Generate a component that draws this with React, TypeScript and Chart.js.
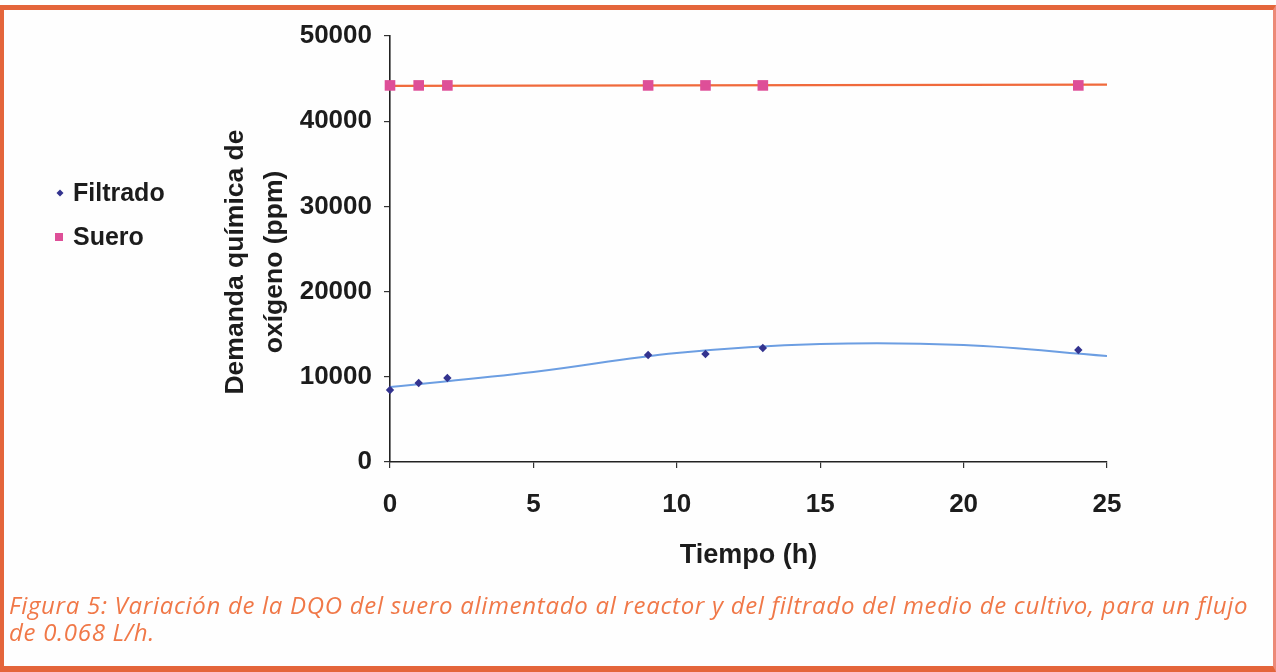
import React, { useEffect, useRef } from "react";
import { Chart, registerables } from "chart.js";

Chart.register(...registerables);

// Sampling times (h)
const tiempos = [0, 1, 2, 9, 11, 13, 24];
// Measured COD of the filtrate (ppm)
const filtrado = [8450, 9270, 9860, 12560, 12680, 13380, 13150];
// COD of the whey fed to the reactor (ppm)
const suero = [44200, 44200, 44200, 44200, 44200, 44200, 44200];

// Trend curve for the filtrate
const tendenciaFiltradoX = [0, 5, 10, 15, 20, 25];
const tendenciaFiltradoY = [8800, 10560, 12790, 13850, 13730, 12450];
// Trend line for the whey
const tendenciaSueroX = [0, 25];
const tendenciaSueroY = [44150, 44300];

const xTicks = [0, 5, 10, 15, 20, 25];
const yTicks = [0, 10000, 20000, 30000, 40000, 50000];

const legendItems = ["Filtrado", "Suero"];
const yTitle = ["Demanda química de", "oxígeno (ppm)"];
const xTitle = "Tiempo (h)";
const caption1 =
  "Figura 5: Variación de la DQO del suero alimentado al reactor y del filtrado del medio de cultivo, para un flujo";
const caption2 = "de 0.068 L/h.";

const FONT = "'Liberation Sans', Arial, sans-serif";
const INK = "#1c1c1c";
const BLUE_PT = "#33338f";
const PINK_PT = "#de4f98";
const BLUE_LINE = "#6c9ee2";
const ORANGE_LINE = "#f06a3c";
const FRAME = "#e4653b";

const pts = (xs: number[], ys: number[]) => xs.map((x, i) => ({ x, y: ys[i] }));

// Legend drawn in the free space left of the axis title, plus the two-line y title
const sideText = {
  id: "sideText",
  afterDraw(chart: any) {
    const ctx = chart.ctx;
    ctx.save();
    ctx.textBaseline = "middle";
    ctx.textAlign = "left";
    const rows = [193, 237];
    // diamond
    ctx.fillStyle = BLUE_PT;
    ctx.beginPath();
    ctx.moveTo(60, rows[0] - 3.5);
    ctx.lineTo(63.5, rows[0]);
    ctx.lineTo(60, rows[0] + 3.5);
    ctx.lineTo(56.5, rows[0]);
    ctx.closePath();
    ctx.fill();
    // square
    ctx.fillStyle = PINK_PT;
    ctx.fillRect(55, rows[1] - 4, 8, 8);
    ctx.fillStyle = INK;
    ctx.font = `bold 25px ${FONT}`;
    legendItems.forEach((t, i) => ctx.fillText(t, 73, rows[i] + 1));

    // rotated axis title
    ctx.font = `bold 26.5px ${FONT}`;
    ctx.textAlign = "center";
    const cols = [236, 275];
    yTitle.forEach((t, i) => {
      ctx.save();
      ctx.translate(cols[i], 262);
      ctx.rotate(-Math.PI / 2);
      ctx.fillText(t, 0, 0);
      ctx.restore();
    });
    ctx.restore();
  },
};

export default function App() {
  const ref = useRef<HTMLCanvasElement>(null);

  useEffect(() => {
    if (!ref.current) return;
    const chart = new Chart(ref.current, {
      type: "scatter",
      data: {
        datasets: [
          {
            label: "Filtrado",
            data: pts(tiempos, filtrado),
            pointStyle: "rectRot",
            pointRadius: 4.2,
            backgroundColor: BLUE_PT,
            borderColor: BLUE_PT,
            borderWidth: 0,
            showLine: false,
            clip: false,
          },
          {
            label: "Suero",
            data: pts(tiempos, suero),
            pointStyle: "rect",
            pointRadius: 7.5,
            backgroundColor: PINK_PT,
            borderColor: PINK_PT,
            borderWidth: 0,
            showLine: false,
            clip: false,
          },
          {
            label: "Tendencia filtrado",
            data: pts(tendenciaFiltradoX, tendenciaFiltradoY),
            showLine: true,
            pointRadius: 0,
            borderColor: BLUE_LINE,
            borderWidth: 2,
            tension: 0.4,
          },
          {
            label: "Tendencia suero",
            data: pts(tendenciaSueroX, tendenciaSueroY),
            showLine: true,
            pointRadius: 0,
            borderColor: ORANGE_LINE,
            borderWidth: 2.2,
          },
        ],
      },
      options: {
        responsive: false,
        animation: false,
        layout: { padding: { left: 200, top: 36, right: 169, bottom: 0 } },
        plugins: { legend: { display: false }, tooltip: { enabled: false } },
        scales: {
          x: {
            type: "linear",
            min: 0,
            max: 25,
            afterBuildTicks: (s: any) => {
              s.ticks = xTicks.map((v) => ({ value: v }));
            },
            afterFit: (s: any) => {
              s.height = 210;
            },
            grid: { drawOnChartArea: false, drawTicks: true, tickLength: 6, color: "#333", lineWidth: 1.2 },
            border: { display: true, color: "#222", width: 1.6 },
            ticks: {
              color: INK,
              font: { family: FONT, size: 26, weight: "bold" },
              padding: 21,
              maxRotation: 0,
              callback: (v: any) => String(v),
            },
            title: {
              display: true,
              text: xTitle,
              color: INK,
              font: { family: FONT, size: 27, weight: "bold" },
              padding: { top: 0, bottom: 100 },
            },
          },
          y: {
            type: "linear",
            min: 0,
            max: 50000,
            afterBuildTicks: (s: any) => {
              s.ticks = yTicks.map((v) => ({ value: v }));
            },
            afterFit: (s: any) => {
              s.width = 190;
            },
            grid: { drawOnChartArea: false, drawTicks: true, tickLength: 6, color: "#333", lineWidth: 1.2 },
            border: { display: true, color: "#222", width: 1.6 },
            ticks: {
              color: INK,
              font: { family: FONT, size: 26, weight: "bold" },
              padding: 12,
              callback: (v: any) => String(v),
            },
          },
        },
      },
      plugins: [sideText],
    });
    return () => chart.destroy();
  }, []);

  return (
    <div style={{ position: "fixed", left: 0, top: 0, width: 1276, height: 672, background: "#fefefe", overflow: "hidden" }}>
      <div
        style={{
          position: "absolute",
          left: 0,
          top: 5,
          width: 1276,
          height: 667,
          boxSizing: "border-box",
          borderTop: `5px solid ${FRAME}`,
          borderLeft: `4px solid ${FRAME}`,
          borderRight: `3px solid #ec8a78`,
          borderBottom: `6px solid ${FRAME}`,
        }}
      />
      <canvas ref={ref} width={1276} height={672} style={{ position: "absolute", left: 0, top: 0 }} />
      <div
        style={{
          position: "absolute",
          left: 9,
          top: 591,
          fontFamily: "'Open Sans', 'Noto Sans', sans-serif",
          fontStyle: "italic",
          fontSize: 24,
          letterSpacing: "0.7px",
          lineHeight: "27px",
          color: "#f07848",
          whiteSpace: "nowrap",
        }}
      >
        <div>{caption1}</div>
        <div>{caption2}</div>
      </div>
    </div>
  );
}
